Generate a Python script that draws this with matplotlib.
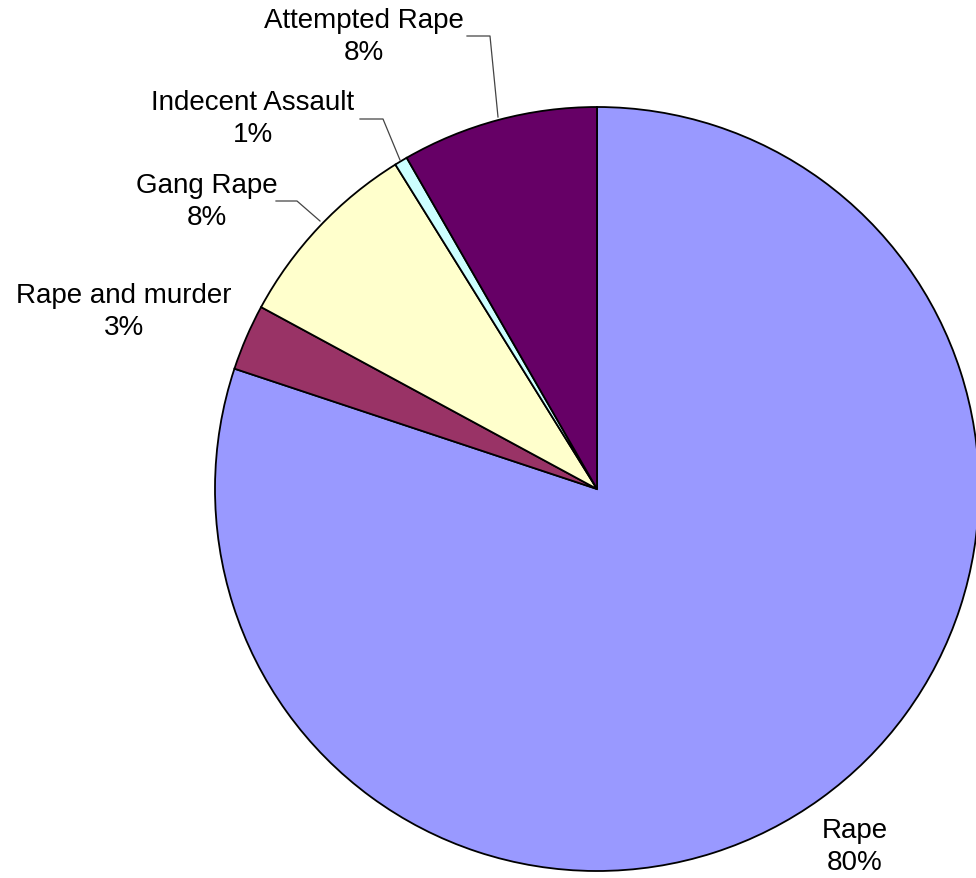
import matplotlib.pyplot as plt

# slice order: clockwise from 12 o'clock
categories = ["Rape", "Rape and murder", "Gang Rape", "Indecent Assault", "Attempted Rape"]
shares = [80.1, 2.8, 8.25, 0.55, 8.3]
colors = ["#9999FF", "#993366", "#FFFFCC", "#CCFFFF", "#660066"]

W, H = 976, 879
CX, CY, R = 597, H - 490, 382

# label block centre (pixels, y from top) and leader line points
label_pos = {
    "Rape": (855, 847),
    "Rape and murder": (124, 312),
    "Gang Rape": (207, 202),
    "Indecent Assault": (253, 119),
    "Attempted Rape": (364, 37),
}
leaders = {
    "Gang Rape": [(276, 202), (297, 202), (320, 222)],
    "Indecent Assault": [(360, 120), (383, 120), (400, 161)],
    "Attempted Rape": [(467, 37), (490, 37), (498, 118)],
}

plt.rcParams["font.family"] = ["Liberation Sans", "DejaVu Sans"]

fig = plt.figure(figsize=(W / 100, H / 100), dpi=100)
ax = fig.add_axes([0, 0, 1, 1])
ax.axis("off")

ax.pie(shares, colors=colors, startangle=90, counterclock=False,
       center=(CX, CY), radius=R,
       wedgeprops=dict(edgecolor="black", linewidth=1.3))
ax.set_xlim(0, W)
ax.set_ylim(0, H)
ax.set_aspect("auto")

total = sum(shares)
for name, val in zip(categories, shares):
    x, y = label_pos[name]
    ax.text(x, H - y, f"{name}\n{round(val / total * 100 + 1e-9):.0f}%",
            ha="center", va="center", fontsize=20, linespacing=1.3)

for name, pts in leaders.items():
    xs = [p[0] for p in pts]
    ys = [H - p[1] for p in pts]
    ax.plot(xs, ys, color="#444444", linewidth=0.9)

fig.savefig("out.png", dpi=100)
